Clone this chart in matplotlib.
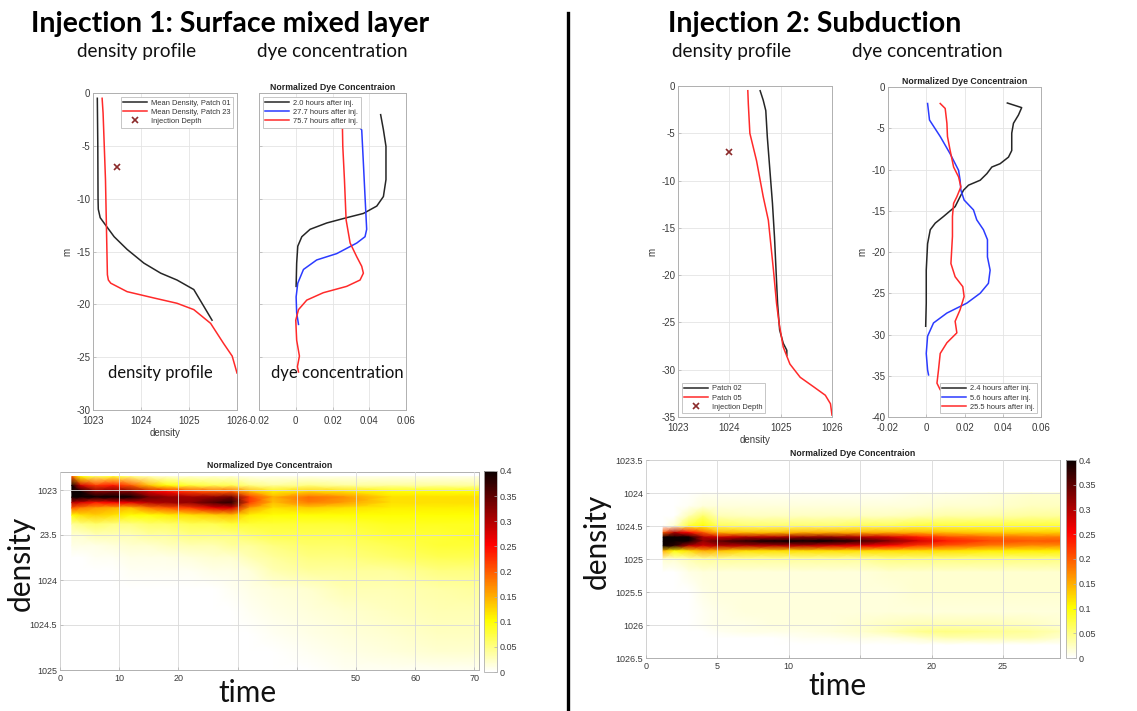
import numpy as np
import matplotlib
matplotlib.use("Agg")
import matplotlib.pyplot as plt
from matplotlib.lines import Line2D

plt.rcParams["font.family"] = ["Liberation Sans", "DejaVu Sans"]
plt.rcParams["axes.unicode_minus"] = False

# ---------------- Injection 1: density profiles ----------------
p01_density = [1023.09, 1023.10, 1023.105, 1023.11, 1023.15, 1023.23, 1023.44, 1023.71,
               1024.06, 1024.41, 1024.75, 1025.10, 1025.31, 1025.48]
p01_depth = [-0.5, -5.0, -10.0, -11.0, -11.8, -12.3, -13.6, -14.8,
             -16.1, -17.05, -17.7, -18.6, -20.2, -21.5]
p23_density = [1023.19, 1023.21, 1023.26, 1023.30, 1023.32, 1023.37, 1023.71, 1024.27,
               1024.75, 1025.10, 1025.45, 1025.72, 1025.90, 1026.0]
p23_depth = [-0.5, -1.9, -8.2, -17.2, -17.7, -18.0, -18.8, -19.4,
             -19.9, -20.5, -21.8, -23.7, -24.9, -26.5]
inj1_density, inj1_depth = 1023.51, -7.0

# ---------------- Injection 1: dye profiles ----------------
dye1_a_conc = [0.0462, 0.0477, 0.0491, 0.0491, 0.0477, 0.0441, 0.0368, 0.0277,
               0.0169, 0.0078, 0.0033, 0.0011, 0.0005, 0.0002]
dye1_a_depth = [-2.05, -3.47, -5.05, -8.2, -9.8, -10.7, -11.4, -11.8,
                -12.3, -12.9, -13.6, -14.5, -16.1, -18.3]
dye1_b_conc = [0.0323, 0.0359, 0.0368, 0.0377, 0.0386, 0.0377, 0.0332, 0.0223,
               0.0114, 0.0042, 0.0011, 0.0002, 0.0005, 0.0015]
dye1_b_depth = [-2.7, -3.5, -6.6, -9.8, -12.9, -13.6, -14.2, -15.2,
                -15.8, -16.7, -18.0, -19.3, -20.8, -21.9]
dye1_c_conc = [0.0254, 0.0256, 0.0265, 0.0274, 0.0296, 0.0332, 0.0359, 0.0368, 0.0350,
               0.0277, 0.0150, 0.0060, 0.0015, 0.0, 0.0005, 0.0020, 0.0009, 0.0015]
dye1_c_depth = [-3.2, -5.05, -8.2, -12.0, -14.2, -15.5, -16.4, -17.05, -17.7,
                -18.3, -18.9, -19.6, -20.5, -21.5, -23.4, -24.9, -25.9, -26.4]
dye1_labels = ["2.0 hours after inj.", "27.7 hours after inj.", "75.7 hours after inj."]

# ---------------- Injection 2: density profiles ----------------
p02_density = [1024.60, 1024.66, 1024.71, 1024.74, 1024.79, 1024.84, 1024.88, 1024.91,
               1024.94, 1024.98, 1025.05, 1025.12, 1025.12]
p02_depth = [-0.5, -1.5, -2.6, -5.4, -8.9, -12.4, -16.0, -19.5,
             -23.0, -25.8, -27.2, -27.95, -28.5]
p05_density = [1024.36, 1024.37, 1024.40, 1024.53, 1024.66, 1024.76, 1024.86, 1024.92,
               1024.97, 1025.05, 1025.18, 1025.38, 1025.64, 1025.87, 1025.97, 1026.0]
p05_depth = [-0.5, -1.9, -5.0, -7.9, -11.7, -14.2, -19.5, -23.0,
             -25.1, -27.6, -29.4, -30.8, -31.8, -32.7, -33.6, -34.8]
inj2_density, inj2_depth = 1024.0, -7.0

# ---------------- Injection 2: dye profiles ----------------
dye2_a_conc = [0.0424, 0.0499, 0.0482, 0.0456, 0.0447, 0.0447, 0.0430, 0.0386, 0.0343,
               0.0317, 0.0282, 0.0221, 0.0195, 0.0177, 0.0151, 0.0090, 0.0047, 0.0021,
               0.0007, 0.0, 0.0, -0.0003]
dye2_a_depth = [-1.94, -2.5, -3.4, -4.4, -5.6, -7.7, -8.5, -9.3, -9.7,
                -10.5, -11.3, -11.9, -12.5, -13.3, -14.5, -15.7, -16.5, -17.3,
                -19.0, -22.2, -26.2, -29.0]
dye2_b_conc = [0.0007, 0.0017, 0.0073, 0.0125, 0.0169, 0.0177, 0.0181, 0.0198, 0.0247,
               0.0264, 0.0299, 0.0320, 0.0320, 0.0334, 0.0325, 0.0282, 0.0212, 0.0108,
               0.0038, 0.0007, 0.0, 0.0007, 0.0012]
dye2_b_depth = [-2.0, -4.0, -6.0, -8.1, -10.1, -11.3, -12.5, -13.7, -14.9,
                -16.1, -17.3, -18.5, -20.6, -22.2, -23.8, -25.0, -26.2, -27.4,
                -28.6, -30.2, -32.3, -34.3, -34.9]
dye2_c_conc = [0.0073, 0.0099, 0.0108, 0.0111, 0.0125, 0.0143, 0.0169, 0.0181, 0.0160,
               0.0143, 0.0137, 0.0137, 0.0129, 0.0151, 0.0191, 0.0198, 0.0177, 0.0151,
               0.0160, 0.0108, 0.0073, 0.0064, 0.0056, 0.0073, 0.0082]
dye2_c_depth = [-2.0, -2.6, -4.4, -6.0, -7.7, -9.7, -10.9, -12.1, -13.3,
                -14.1, -15.7, -18.1, -21.4, -23.0, -24.2, -25.4, -27.0, -28.4,
                -29.8, -31.0, -32.3, -34.3, -35.9, -36.7, -36.9]
dye2_labels = ["2.4 hours after inj.", "5.6 hours after inj.", "25.5 hours after inj."]

# ---------------- Dye concentration in density space ----------------
# Injection 1: one vertical profile per time (entries follow heat1_density)
heat1_time = [2.0, 3.5, 6, 9, 12, 15, 18, 22, 26, 29, 32, 36, 42, 48, 56, 64, 70.8]
heat1_density = [1022.85, 1022.95, 1023.02, 1023.08, 1023.14, 1023.2, 1023.28, 1023.38,
                 1023.5, 1023.62, 1023.75, 1023.9, 1024.1, 1024.35, 1024.6, 1024.8, 1025.0]
heat1_profiles = [
    [0.20, 0.40, 0.42, 0.40, 0.30, 0.20, 0.10, 0.04, 0.02, 0.01, 0, 0, 0, 0, 0, 0, 0],
    [0.10, 0.28, 0.40, 0.42, 0.28, 0.18, 0.12, 0.05, 0.02, 0.01, 0, 0, 0, 0, 0, 0, 0],
    [0.06, 0.22, 0.33, 0.40, 0.24, 0.16, 0.13, 0.06, 0.03, 0.01, 0.005, 0, 0, 0, 0, 0, 0],
    [0.08, 0.24, 0.34, 0.42, 0.26, 0.15, 0.12, 0.05, 0.03, 0.015, 0.005, 0, 0, 0, 0, 0, 0],
    [0.05, 0.20, 0.33, 0.40, 0.27, 0.14, 0.10, 0.05, 0.03, 0.02, 0.01, 0.005, 0, 0, 0, 0, 0],
    [0.03, 0.14, 0.28, 0.34, 0.30, 0.18, 0.10, 0.06, 0.04, 0.02, 0.01, 0.005, 0, 0, 0, 0, 0],
    [0.02, 0.10, 0.25, 0.32, 0.31, 0.20, 0.11, 0.06, 0.04, 0.025, 0.01, 0.005, 0, 0, 0, 0, 0],
    [0.02, 0.08, 0.22, 0.31, 0.32, 0.22, 0.12, 0.07, 0.05, 0.03, 0.015, 0.005, 0, 0, 0, 0, 0],
    [0.02, 0.07, 0.20, 0.32, 0.36, 0.27, 0.13, 0.07, 0.05, 0.03, 0.02, 0.01, 0, 0, 0, 0, 0],
    [0.02, 0.07, 0.20, 0.34, 0.38, 0.28, 0.14, 0.08, 0.05, 0.04, 0.02, 0.01, 0.005, 0, 0, 0, 0],
    [0.01, 0.05, 0.15, 0.22, 0.22, 0.16, 0.11, 0.08, 0.06, 0.04, 0.03, 0.015, 0.01, 0.005, 0, 0, 0],
    [0.01, 0.04, 0.11, 0.15, 0.14, 0.12, 0.10, 0.08, 0.07, 0.05, 0.04, 0.03, 0.015, 0.01, 0.005, 0, 0],
    [0.01, 0.05, 0.13, 0.19, 0.18, 0.13, 0.10, 0.08, 0.07, 0.06, 0.05, 0.04, 0.02, 0.015, 0.01, 0.005, 0],
    [0.01, 0.04, 0.12, 0.17, 0.16, 0.12, 0.10, 0.08, 0.07, 0.06, 0.05, 0.04, 0.03, 0.02, 0.015, 0.01, 0.005],
    [0.01, 0.04, 0.10, 0.12, 0.12, 0.11, 0.10, 0.09, 0.08, 0.07, 0.06, 0.04, 0.03, 0.025, 0.02, 0.015, 0.005],
    [0.01, 0.04, 0.10, 0.12, 0.12, 0.11, 0.10, 0.09, 0.08, 0.08, 0.07, 0.05, 0.035, 0.03, 0.025, 0.02, 0.005],
    [0.01, 0.04, 0.10, 0.12, 0.12, 0.11, 0.10, 0.09, 0.09, 0.08, 0.07, 0.05, 0.04, 0.03, 0.025, 0.02, 0.005],
]

# Injection 2
heat2_time = [1.2, 2.0, 3.0, 4.0, 5.0, 7.0, 9.0, 11.0, 13.0, 15.0, 17.0, 19.0, 21.0, 24.0, 27.0, 29.0]
heat2_density = [1024.0, 1024.2, 1024.35, 1024.5, 1024.6, 1024.67, 1024.73, 1024.8, 1024.88,
                 1025.0, 1025.2, 1025.5, 1025.8, 1026.0, 1026.1, 1026.2, 1026.3]
heat2_profiles = [
    [0, 0, 0, 0.0, 0.20, 0.40, 0.42, 0.40, 0.15, 0.02, 0, 0, 0, 0, 0, 0, 0],
    [0, 0, 0, 0.02, 0.30, 0.45, 0.45, 0.38, 0.10, 0.02, 0, 0, 0, 0, 0, 0, 0],
    [0, 0.005, 0.03, 0.08, 0.25, 0.40, 0.42, 0.30, 0.12, 0.03, 0.01, 0, 0, 0, 0, 0, 0],
    [0.005, 0.015, 0.06, 0.10, 0.20, 0.30, 0.32, 0.28, 0.15, 0.04, 0.015, 0.01, 0.005, 0.005, 0, 0, 0],
    [0.005, 0.015, 0.03, 0.07, 0.15, 0.28, 0.35, 0.30, 0.14, 0.04, 0.015, 0.015, 0.01, 0.01, 0.005, 0, 0],
    [0.005, 0.015, 0.025, 0.06, 0.14, 0.30, 0.38, 0.30, 0.12, 0.04, 0.015, 0.015, 0.015, 0.01, 0.01, 0, 0],
    [0.005, 0.015, 0.025, 0.06, 0.14, 0.30, 0.40, 0.30, 0.12, 0.04, 0.015, 0.015, 0.015, 0.015, 0.01, 0, 0],
    [0.005, 0.015, 0.025, 0.06, 0.15, 0.32, 0.42, 0.30, 0.12, 0.04, 0.015, 0.015, 0.015, 0.015, 0.01, 0.005, 0],
    [0.005, 0.015, 0.025, 0.06, 0.15, 0.32, 0.40, 0.28, 0.12, 0.04, 0.015, 0.015, 0.015, 0.015, 0.015, 0.005, 0],
    [0.005, 0.015, 0.025, 0.07, 0.15, 0.30, 0.37, 0.27, 0.12, 0.04, 0.015, 0.015, 0.015, 0.02, 0.02, 0.01, 0],
    [0.005, 0.015, 0.025, 0.07, 0.15, 0.28, 0.33, 0.25, 0.12, 0.05, 0.02, 0.015, 0.015, 0.025, 0.03, 0.01, 0],
    [0.01, 0.015, 0.03, 0.08, 0.15, 0.24, 0.28, 0.22, 0.12, 0.05, 0.02, 0.02, 0.015, 0.03, 0.045, 0.02, 0],
    [0.01, 0.02, 0.035, 0.08, 0.14, 0.21, 0.24, 0.20, 0.12, 0.05, 0.02, 0.02, 0.015, 0.03, 0.05, 0.03, 0],
    [0.015, 0.02, 0.035, 0.08, 0.13, 0.19, 0.21, 0.18, 0.11, 0.05, 0.02, 0.02, 0.015, 0.03, 0.045, 0.03, 0],
    [0.02, 0.025, 0.04, 0.08, 0.13, 0.18, 0.20, 0.17, 0.11, 0.05, 0.02, 0.02, 0.015, 0.025, 0.04, 0.03, 0],
    [0.02, 0.025, 0.04, 0.08, 0.13, 0.18, 0.20, 0.17, 0.11, 0.05, 0.02, 0.02, 0.015, 0.02, 0.03, 0.02, 0],
]

cbar_ticks = [0, 0.05, 0.1, 0.15, 0.2, 0.25, 0.3, 0.35, 0.4]
cbar_ticklabels = ["0", "0.05", "0.1", "0.15", "0.2", "0.25", "0.3", "0.35", "0.4"]

# ---------------- figure / layout helpers ----------------
W, H = 1137, 711
fig = plt.figure(figsize=(W / 100, H / 100), dpi=100)


def box(x0, y0, x1, y1):
    return [x0 / W, 1 - y1 / H, (x1 - x0) / W, (y1 - y0) / H]


def ftext(x, y, s, **kw):
    fig.text(x / W, 1 - y / H, s, **kw)


AX_EDGE = "#b0b0b0"
GRID = "#e4e4e4"
LBL = "#3a3a3a"
BLACK = "#262626"
RED = "#ff2a2a"
BLUE = "#2b3bff"
XMARK = "#8b2a2a"
TITLE_FONT = ["Lato", "DejaVu Sans"]


def style(ax, size=7):
    for s in ax.spines.values():
        s.set_color(AX_EDGE)
        s.set_linewidth(0.7)
    ax.tick_params(direction="in", length=2.5, width=0.5, colors=AX_EDGE,
                   labelcolor=LBL, labelsize=size, pad=2)
    ax.tick_params(axis="x", pad=4)
    ax.grid(True, color=GRID, linewidth=0.6)
    ax.set_axisbelow(True)


def legend(ax, loc):
    leg = ax.legend(loc=loc, fontsize=5.4, frameon=True, fancybox=False,
                    edgecolor="#bdbdbd", framealpha=1, handlelength=3.2,
                    borderpad=0.35, labelspacing=0.25, handletextpad=0.5,
                    borderaxespad=0.5)
    leg.get_frame().set_linewidth(0.6)
    for t in leg.get_texts():
        t.set_color("#333333")
    return leg


LW = 1.1

# ---- panel: injection 1 density ----
ax1 = fig.add_axes(box(93, 93, 237, 410))
ax1.plot(p01_density, p01_depth, color=BLACK, lw=LW, label="Mean Density, Patch 01")
ax1.plot(p23_density, p23_depth, color=RED, lw=LW, label="Mean Density, Patch 23")
ax1.plot([inj1_density], [inj1_depth], "x", color=XMARK, ms=5, mew=1.2, label="Injection Depth")
ax1.set_xlim(1023, 1026)
ax1.set_ylim(-30, 0)
ax1.set_xticks([1023, 1024, 1025, 1026])
ax1.set_yticks(range(-30, 1, 5))
style(ax1)
ax1.set_ylabel("m", fontsize=7, color=LBL, labelpad=3)
ax1.set_xlabel("density", fontsize=7, color=LBL, labelpad=2)
legend(ax1, "upper right")

# ---- panel: injection 1 dye ----
ax2 = fig.add_axes(box(259, 93, 406, 410))
ax2.plot(dye1_a_conc, dye1_a_depth, color=BLACK, lw=LW, label=dye1_labels[0])
ax2.plot(dye1_b_conc, dye1_b_depth, color=BLUE, lw=LW, label=dye1_labels[1])
ax2.plot(dye1_c_conc, dye1_c_depth, color=RED, lw=LW, label=dye1_labels[2])
ax2.set_xlim(-0.02, 0.06)
ax2.set_ylim(-30, 0)
ax2.set_xticks([-0.02, 0, 0.02, 0.04, 0.06])
ax2.set_xticklabels(["-0.02", "0", "0.02", "0.04", "0.06"])
ax2.set_yticks(range(-30, 1, 5))
ax2.set_yticklabels([])
style(ax2)
ax2.set_title("Normalized Dye Concentraion", fontsize=6.3, fontweight="bold",
              color="#222222", pad=2)
legend(ax2, "upper left")

# ---- panel: injection 2 density ----
ax3 = fig.add_axes(box(678, 86, 832, 417))
ax3.plot(p02_density, p02_depth, color=BLACK, lw=LW, label="Patch 02")
ax3.plot(p05_density, p05_depth, color=RED, lw=LW, label="Patch 05")
ax3.plot([inj2_density], [inj2_depth], "x", color=XMARK, ms=5, mew=1.2, label="Injection Depth")
ax3.set_xlim(1023, 1026)
ax3.set_ylim(-35, 0)
ax3.set_xticks([1023, 1024, 1025, 1026])
ax3.set_yticks(range(-35, 1, 5))
style(ax3)
ax3.set_ylabel("m", fontsize=7, color=LBL, labelpad=3)
ax3.set_xlabel("density", fontsize=7, color=LBL, labelpad=2)
legend(ax3, "lower left")

# ---- panel: injection 2 dye ----
ax4 = fig.add_axes(box(888, 87, 1041, 417))
ax4.plot(dye2_a_conc, dye2_a_depth, color=BLACK, lw=LW, label=dye2_labels[0])
ax4.plot(dye2_b_conc, dye2_b_depth, color=BLUE, lw=LW, label=dye2_labels[1])
ax4.plot(dye2_c_conc, dye2_c_depth, color=RED, lw=LW, label=dye2_labels[2])
ax4.set_xlim(-0.02, 0.06)
ax4.set_ylim(-40, 0)
ax4.set_xticks([-0.02, 0, 0.02, 0.04, 0.06])
ax4.set_xticklabels(["-0.02", "0", "0.02", "0.04", "0.06"])
ax4.set_yticks(range(-40, 1, 5))
style(ax4)
ax4.set_ylabel("m", fontsize=7, color=LBL, labelpad=3)
ax4.set_title("Normalized Dye Concentraion", fontsize=6.3, fontweight="bold",
              color="#222222", pad=2)
legend(ax4, "lower right")


# ---- heat maps ----
def heat(ax_box, cax_box, times, dens, profiles, ylim, yticks, yticklabels,
         xlim, xticks, xticklabels):
    ax = fig.add_axes(box(*ax_box))
    c = np.array(profiles).T
    mesh = ax.pcolormesh(times, dens, c, cmap="hot_r", vmin=0, vmax=0.4,
                         shading="gouraud", zorder=1)
    ax.set_xlim(*xlim)
    ax.set_ylim(*ylim)
    ax.set_xticks(xticks)
    ax.set_xticklabels(xticklabels)
    ax.set_yticks(yticks)
    ax.set_yticklabels(yticklabels)
    style(ax, size=6.5)
    ax.tick_params(axis="x", pad=3)
    ax.grid(True, color="#d9d9d9", linewidth=0.6, zorder=3)
    ax.set_axisbelow(False)
    ax.set_title("Normalized Dye Concentraion", fontsize=6.3, fontweight="bold",
                 color="#222222", pad=3)
    cax = fig.add_axes(box(*cax_box))
    cb = fig.colorbar(mesh, cax=cax, ticks=cbar_ticks)
    cb.ax.set_yticklabels(cbar_ticklabels)
    cb.outline.set_edgecolor(AX_EDGE)
    cb.outline.set_linewidth(0.6)
    cb.ax.tick_params(direction="in", length=2.5, width=0.5, colors=AX_EDGE,
                      labelcolor=LBL, labelsize=6.5, pad=2)
    return ax


heat((60, 472, 479, 670), (484, 471, 497, 672),
     heat1_time, heat1_density, heat1_profiles,
     (1025, 1022.8), [1023, 1023.5, 1024, 1024.5, 1025],
     ["1023", "23.5", "1024", "1024.5", "1025"],
     (0, 70.8), [0, 10, 20, 30, 40, 50, 60, 70],
     ["0", "10", "20", "", "", "50", "60", "70"])

heat((646, 460, 1060, 658), (1066, 460, 1076, 658),
     heat2_time, heat2_density, heat2_profiles,
     (1026.5, 1023.5), [1023.5, 1024, 1024.5, 1025, 1025.5, 1026, 1026.5],
     ["1023.5", "1024", "1024.5", "1025", "1025.5", "1026", "1026.5"],
     (0, 29.0), [0, 5, 10, 15, 20, 25],
     ["0", "5", "10", "", "20", "25"])

# ---- headings and annotations ----
ftext(230, 24, "Injection 1: Surface mixed layer", ha="center", va="center",
      fontsize=20.5, fontweight="bold", family=TITLE_FONT, color="black")
ftext(815, 24, "Injection 2: Subduction", ha="center", va="center",
      fontsize=20.5, fontweight="bold", family=TITLE_FONT, color="black")
for x, s in [(137, "density profile"), (332, "dye concentration"),
             (732, "density profile"), (927, "dye concentration")]:
    ftext(x, 52, s, ha="center", va="center", fontsize=13.6, family=TITLE_FONT,
          color="#111111")
ftext(160, 373, "density profile", ha="center", va="center", fontsize=12,
      family=TITLE_FONT, color="#111111")
ftext(337, 373, "dye concentration", ha="center", va="center", fontsize=12,
      family=TITLE_FONT, color="#111111")

ftext(21, 563, "density", ha="center", va="center", rotation=90, fontsize=21.5,
      family=TITLE_FONT, color="#111111")
ftext(247, 693, "time", ha="center", va="center", fontsize=21.5,
      family=TITLE_FONT, color="#111111")
ftext(597, 541, "density", ha="center", va="center", rotation=90, fontsize=21.5,
      family=TITLE_FONT, color="#111111")
ftext(837, 686, "time", ha="center", va="center", fontsize=21.5,
      family=TITLE_FONT, color="#111111")

# divider between the two injections
fig.add_artist(Line2D([568 / W, 568 / W], [0, 1 - 13 / H], transform=fig.transFigure,
                      color="black", lw=2.4))

fig.savefig("out.png", dpi=100, facecolor="white")
